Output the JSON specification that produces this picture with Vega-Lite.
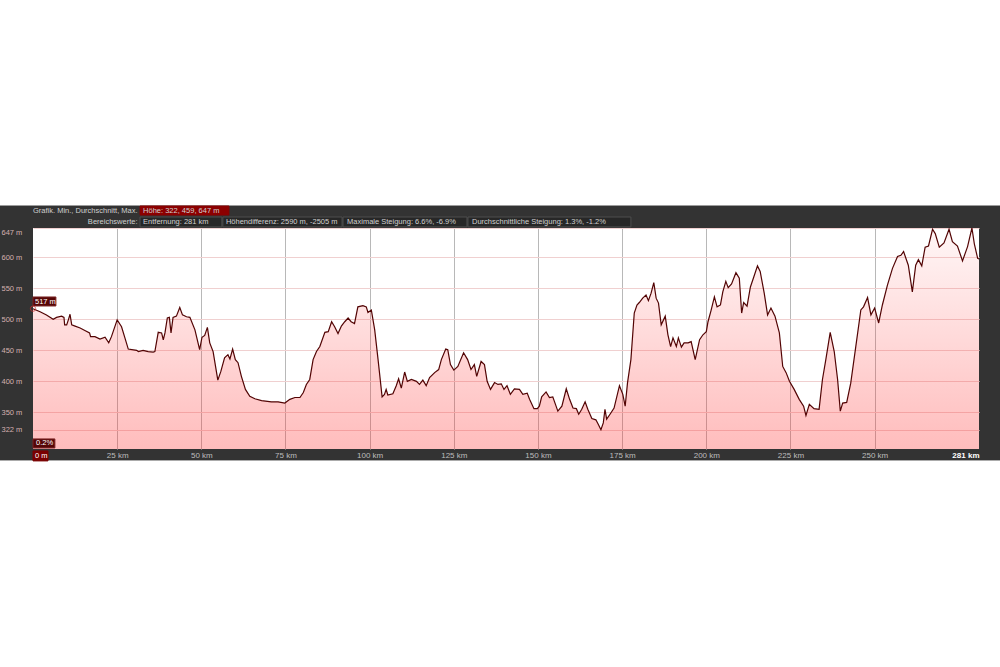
{
  "$schema": "https://vega.github.io/schema/vega-lite/v6.json",
  "width": 946,
  "height": 221,
  "autosize": {"type": "none"},
  "padding": {"left": 33, "top": 228, "right": 21, "bottom": 218},
  "background": "#333333",
  "view": {"fill": "#ffffff", "stroke": null},
  "config": {"font": "Liberation Sans"},
  "resolve": {"axis": {"x": "independent", "y": "independent"}},
  "datasets": {
    "profile": [
      {"km":0,"m":517},{"km":2.1,"m":512},{"km":4.0,"m":507},{"km":6.0,"m":500},{"km":7.0,"m":503},{"km":8.5,"m":505},{"km":9.2,"m":503},{"km":9.4,"m":491},{"km":10.0,"m":491},{"km":10.5,"m":499},{"km":11.0,"m":508},{"km":11.5,"m":491},{"km":12.5,"m":489},{"km":14.0,"m":486},{"km":15.4,"m":482},{"km":16.8,"m":478},{"km":17.1,"m":472},{"km":18.4,"m":472},{"km":19.9,"m":468},{"km":21.4,"m":471},{"km":22.5,"m":462},{"km":23.3,"m":472},{"km":25.0,"m":499},{"km":26.3,"m":488},{"km":27.3,"m":470},{"km":28.3,"m":452},{"km":30.8,"m":450},{"km":31.3,"m":448},{"km":32.7,"m":450},{"km":34.2,"m":448},{"km":35.7,"m":447},{"km":36.2,"m":448},{"km":37.2,"m":479},{"km":38.2,"m":478},{"km":38.7,"m":467},{"km":39.2,"m":478},{"km":39.9,"m":502},{"km":40.5,"m":503},{"km":41.0,"m":478},{"km":41.6,"m":503},{"km":42.6,"m":505},{"km":43.6,"m":519},{"km":44.4,"m":507},{"km":45.6,"m":504},{"km":46.6,"m":503},{"km":48.1,"m":483},{"km":49.5,"m":451},{"km":50.2,"m":471},{"km":51.0,"m":474},{"km":51.8,"m":487},{"km":52.5,"m":462},{"km":53.5,"m":448},{"km":54.9,"m":402},{"km":55.8,"m":416},{"km":56.9,"m":438},{"km":57.9,"m":443},{"km":58.5,"m":436},{"km":59.3,"m":452},{"km":60.1,"m":435},{"km":60.9,"m":430},{"km":61.9,"m":408},{"km":63.1,"m":387},{"km":64.4,"m":376},{"km":65.9,"m":372},{"km":67.9,"m":369},{"km":70.8,"m":367},{"km":72.8,"m":367},{"km":74.8,"m":365},{"km":76.3,"m":371},{"km":77.8,"m":374},{"km":79.3,"m":374},{"km":80.3,"m":382},{"km":81.2,"m":395},{"km":82.2,"m":403},{"km":83.2,"m":435},{"km":84.2,"m":448},{"km":85.2,"m":456},{"km":86.7,"m":479},{"km":87.7,"m":480},{"km":88.7,"m":496},{"km":89.6,"m":488},{"km":90.6,"m":477},{"km":91.6,"m":489},{"km":92.6,"m":496},{"km":93.6,"m":502},{"km":94.5,"m":496},{"km":95.5,"m":493},{"km":96.5,"m":520},{"km":98.0,"m":522},{"km":99.0,"m":520},{"km":99.5,"m":511},{"km":100.5,"m":515},{"km":101.5,"m":483},{"km":102.5,"m":435},{"km":103.7,"m":375},{"km":104.4,"m":379},{"km":104.9,"m":387},{"km":105.4,"m":378},{"km":106.9,"m":380},{"km":107.9,"m":393},{"km":108.6,"m":404},{"km":109.4,"m":389},{"km":110.4,"m":415},{"km":111.2,"m":400},{"km":112.4,"m":403},{"km":113.9,"m":400},{"km":114.8,"m":395},{"km":115.8,"m":402},{"km":116.8,"m":393},{"km":117.8,"m":406},{"km":119.3,"m":414},{"km":120.5,"m":419},{"km":121.3,"m":435},{"km":122.6,"m":452},{"km":123.2,"m":451},{"km":124.0,"m":427},{"km":125.0,"m":418},{"km":126.2,"m":424},{"km":127.9,"m":446},{"km":129.1,"m":435},{"km":130.1,"m":419},{"km":131.1,"m":427},{"km":131.8,"m":408},{"km":133.1,"m":432},{"km":134.1,"m":427},{"km":134.9,"m":400},{"km":135.9,"m":387},{"km":137.1,"m":398},{"km":138.1,"m":395},{"km":139.1,"m":396},{"km":139.9,"m":387},{"km":140.8,"m":393},{"km":141.8,"m":379},{"km":143.0,"m":388},{"km":144.5,"m":387},{"km":145.5,"m":379},{"km":146.8,"m":381},{"km":147.5,"m":371},{"km":148.8,"m":356},{"km":149.8,"m":356},{"km":150.4,"m":360},{"km":151.1,"m":375},{"km":152.4,"m":383},{"km":153.4,"m":374},{"km":154.4,"m":375},{"km":155.9,"m":352},{"km":157.1,"m":360},{"km":158.4,"m":388},{"km":159.4,"m":371},{"km":160.4,"m":357},{"km":161.4,"m":356},{"km":162.1,"m":347},{"km":163.0,"m":355},{"km":164.0,"m":367},{"km":164.8,"m":355},{"km":166.0,"m":340},{"km":167.2,"m":338},{"km":167.9,"m":331},{"km":168.7,"m":322},{"km":169.4,"m":333},{"km":169.9,"m":355},{"km":170.4,"m":339},{"km":171.4,"m":347},{"km":172.6,"m":357},{"km":174.2,"m":393},{"km":175.2,"m":379},{"km":175.9,"m":360},{"km":176.6,"m":398},{"km":177.6,"m":435},{"km":178.6,"m":510},{"km":179.4,"m":523},{"km":180.1,"m":527},{"km":181.1,"m":534},{"km":182.1,"m":539},{"km":182.8,"m":530},{"km":183.6,"m":542},{"km":184.4,"m":559},{"km":185.1,"m":534},{"km":185.8,"m":526},{"km":186.6,"m":491},{"km":187.8,"m":505},{"km":188.6,"m":475},{"km":189.4,"m":456},{"km":190.1,"m":470},{"km":191.1,"m":456},{"km":191.7,"m":470},{"km":192.6,"m":455},{"km":193.4,"m":462},{"km":194.6,"m":462},{"km":195.5,"m":464},{"km":196.7,"m":435},{"km":198.0,"m":467},{"km":199.0,"m":475},{"km":200.0,"m":480},{"km":200.5,"m":496},{"km":201.4,"m":514},{"km":202.4,"m":536},{"km":203.2,"m":520},{"km":204.2,"m":523},{"km":204.9,"m":544},{"km":205.8,"m":561},{"km":206.5,"m":551},{"km":207.5,"m":557},{"km":208.8,"m":575},{"km":209.8,"m":566},{"km":210.5,"m":510},{"km":211.1,"m":527},{"km":212.1,"m":521},{"km":213.1,"m":552},{"km":214.1,"m":568},{"km":215.2,"m":586},{"km":216.0,"m":577},{"km":217.2,"m":542},{"km":218.2,"m":507},{"km":219.2,"m":518},{"km":220.4,"m":505},{"km":221.7,"m":478},{"km":222.7,"m":424},{"km":223.7,"m":414},{"km":224.7,"m":400},{"km":226.1,"m":387},{"km":227.6,"m":371},{"km":228.9,"m":360},{"km":229.6,"m":345},{"km":230.6,"m":363},{"km":232.0,"m":356},{"km":233.5,"m":355},{"km":234.5,"m":403},{"km":235.5,"m":435},{"km":236.8,"m":479},{"km":238.0,"m":448},{"km":239.0,"m":403},{"km":239.8,"m":352},{"km":240.5,"m":365},{"km":241.7,"m":366},{"km":242.9,"m":397},{"km":244.4,"m":456},{"km":245.9,"m":515},{"km":246.7,"m":520},{"km":247.9,"m":535},{"km":248.9,"m":507},{"km":250.0,"m":518},{"km":251.2,"m":494},{"km":252.3,"m":523},{"km":253.8,"m":555},{"km":255.3,"m":582},{"km":256.8,"m":601},{"km":257.8,"m":603},{"km":258.6,"m":609},{"km":260.0,"m":587},{"km":261.2,"m":544},{"km":262.2,"m":587},{"km":263.0,"m":596},{"km":264.0,"m":586},{"km":265.0,"m":616},{"km":266.0,"m":618},{"km":267.2,"m":645},{"km":268.0,"m":638},{"km":269.2,"m":616},{"km":270.6,"m":623},{"km":272.1,"m":645},{"km":273.1,"m":625},{"km":274.6,"m":618},{"km":276.1,"m":594},{"km":277.6,"m":617},{"km":278.9,"m":647},{"km":279.6,"m":622},{"km":280.6,"m":598},{"km":281.0,"m":597}
    ],
    "boxes": [
      {"x1":-20,"x2":300,"y1":684,"y2":1300,"kind":"page"},
      {"x1":-20,"x2":300,"y1":271.8,"y2":-300,"kind":"page"},
      {"x1":31.8,"x2":58.2,"y1":682.4,"y2":667.9,"kind":"hi"},
      {"x1":31.8,"x2":56.1,"y1":664.7,"y2":648.8,"kind":"hdr"},
      {"x1":56.4,"x2":91.8,"y1":664.7,"y2":648.8,"kind":"hdr"},
      {"x1":92.1,"x2":128.9,"y1":664.7,"y2":648.8,"kind":"hdr"},
      {"x1":129.2,"x2":177.6,"y1":664.7,"y2":648.8,"kind":"hdr"},
      {"x1":0,"x2":6.8,"y1":535.9,"y2":521.4,"kind":"tag"},
      {"x1":0,"x2":6.5,"y1":307.2,"y2":292.7,"kind":"tag"},
      {"x1":0,"x2":4.45,"y1":287.9,"y2":271.8,"kind":"zero"}
    ],
    "texts": [
      {"x":0.0,"y":674.4,"text":"Grafik. Min., Durchschnitt, Max.","kind":"hdr"},
      {"x":32.7,"y":674.4,"text":"Höhe: 322, 459, 647 m","kind":"hdr"},
      {"x":16.3,"y":656.7,"text":"Bereichswerte:","kind":"hdr"},
      {"x":32.7,"y":656.7,"text":"Entfernung: 281 km","kind":"hdr"},
      {"x":57.3,"y":656.7,"text":"Höhendifferenz: 2590 m, -2505 m","kind":"hdr"},
      {"x":93.3,"y":656.7,"text":"Maximale Steigung: 6.6%, -6.9%","kind":"hdr"},
      {"x":130.4,"y":656.7,"text":"Durchschnittliche Steigung: 1.3%, -1.2%","kind":"hdr"},
      {"x":0.6,"y":528.6,"text":"517 m","kind":"tag"},
      {"x":0.9,"y":300,"text":"0.2%","kind":"tag"},
      {"x":0.6,"y":280,"text":"0 m","kind":"tag"}
    ]
  },
  "layer": [
    {
      "data": {"name": "profile"},
      "mark": {
        "type": "area",
        "interpolate": "linear",
        "fill": {
          "gradient": "linear", "x1": 0, "y1": 0, "x2": 0, "y2": 1,
          "stops": [
            {"offset": 0, "color": "rgba(255,40,40,0.04)"},
            {"offset": 1, "color": "rgba(255,40,40,0.31)"}
          ]
        }
      },
      "encoding": {
        "x": {
          "field": "km", "type": "quantitative",
          "scale": {"domain": [0, 281], "nice": false, "zero": false},
          "axis": {
            "title": null,
            "values": [0, 25, 50, 75, 100, 125, 150, 175, 200, 225, 250, 281],
            "labelExpr": "datum.value == 0 ? '' : datum.value + ' km'",
            "grid": true,
            "gridColor": "#b8b8b8",
            "gridOpacity": {"condition": {"test": "datum.value == 0 || datum.value == 281", "value": 0}, "value": 1},
            "domain": false,
            "ticks": false,
            "tickSize": 0,
            "labelOverlap": false,
            "labelPadding": 2,
            "labelFlush": true,
            "labelFontSize": 8,
            "labelColor": {"condition": {"test": "datum.value == 281", "value": "#ffffff"}, "value": "#bdbdbd"},
            "labelFontWeight": {"condition": {"test": "datum.value == 281", "value": "bold"}, "value": "normal"}
          }
        },
        "y": {
          "field": "m", "type": "quantitative",
          "scale": {"domain": [291, 647], "nice": false, "zero": false},
          "axis": {
            "title": null,
            "values": [322, 350, 400, 450, 500, 550, 600, 647],
            "labelExpr": "datum.value + ' m'",
            "grid": true,
            "gridColor": "#f0d0d0",
            "domain": false,
            "ticks": false,
            "tickSize": 0,
            "labelOverlap": false,
            "labelAlign": "left",
            "labelPadding": 32,
            "labelFlush": true,
            "labelFontSize": 7.5,
            "labelColor": "#d4b0b0"
          }
        },
        "y2": {"datum": 291}
      }
    },
    {
      "data": {"name": "boxes"},
      "mark": {"type": "rect", "strokeWidth": 1},
      "encoding": {
        "x": {"field": "x1", "type": "quantitative", "axis": null},
        "x2": {"field": "x2"},
        "y": {"field": "y1", "type": "quantitative", "axis": null},
        "y2": {"field": "y2"},
        "fill": {"field": "kind", "type": "nominal", "legend": null,
          "scale": {"domain": ["page", "hdr", "hi", "tag", "zero"], "range": ["#ffffff", "#272727", "#8c0000", "#560606", "#7a0000"]}},
        "stroke": {"field": "kind", "type": "nominal", "legend": null,
          "scale": {"domain": ["page", "hdr", "hi", "tag", "zero"], "range": ["#ffffff", "#4e4e4e", "#8c0000", "#7a2222", "#7a0000"]}}
      }
    },
    {
      "data": {"name": "profile"},
      "mark": {"type": "line", "color": "#520404", "strokeWidth": 1.2, "interpolate": "linear"},
      "encoding": {
        "x": {"field": "km", "type": "quantitative", "axis": null},
        "y": {"field": "m", "type": "quantitative", "axis": null}
      }
    },
    {
      "data": {"name": "profile"},
      "transform": [{"filter": "datum.km == 0"}],
      "mark": {"type": "point", "shape": "circle", "filled": false, "stroke": "#d03030", "strokeWidth": 1, "size": 28},
      "encoding": {
        "x": {"field": "km", "type": "quantitative", "axis": null},
        "y": {"field": "m", "type": "quantitative", "axis": null}
      }
    },
    {
      "data": {"name": "texts"},
      "mark": {"type": "text", "align": "left", "baseline": "middle", "fontSize": 7.5},
      "encoding": {
        "x": {"field": "x", "type": "quantitative", "axis": null},
        "y": {"field": "y", "type": "quantitative", "axis": null},
        "text": {"field": "text"},
        "color": {"field": "kind", "type": "nominal", "legend": null,
          "scale": {"domain": ["hdr", "tag"], "range": ["#d0d0d0", "#ffffff"]}}
      }
    }
  ]
}
